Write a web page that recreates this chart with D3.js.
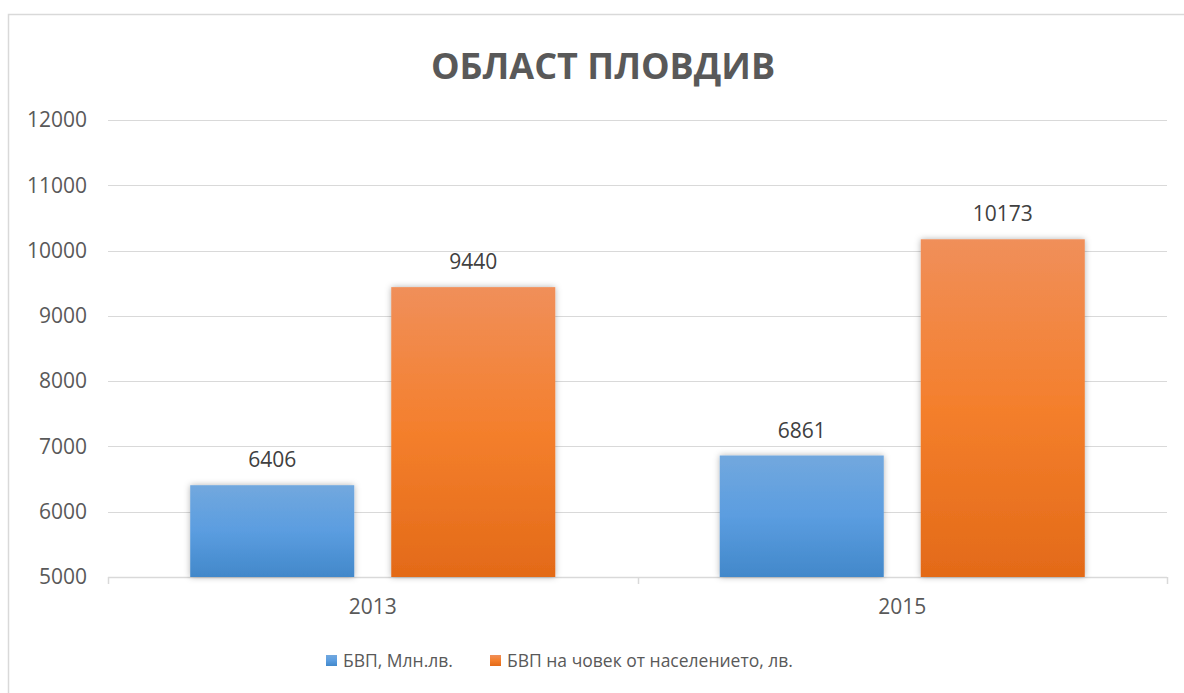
<!DOCTYPE html>
<html>
<head>
<meta charset="utf-8">
<script src="https://cdn.jsdelivr.net/npm/d3@7"></script>
<style>
  body { margin: 0; background: #fff; }
  text { font-family: "Open Sans", "Noto Sans", sans-serif; }
</style>
</head>
<body>
<script>
// data
let years = ['2013', '2015'];
let seriesNames = ['БВП, Млн.лв.', 'БВП на човек от населението, лв.'];
let gdpTotal = [6406, 6861];
let gdpPerCapita = [9440, 10173];
let yTicks = [5000, 6000, 7000, 8000, 9000, 10000, 11000, 12000];

let w = 1184, h = 693;
let plotLeft = 108, plotRight = 1167, plotTop = 120, plotBottom = 577;

let rows = [];
years.forEach((y, i) => {
  rows.push({year: y, s: 0, v: gdpTotal[i]});
  rows.push({year: y, s: 1, v: gdpPerCapita[i]});
});

let svg = d3.select('body').append('svg')
  .attr('width', w)
  .attr('height', h);

svg.append('rect').attr('width', w).attr('height', h).attr('fill', '#fff');

// outer chart border (runs off the right and bottom)
svg.append('rect')
  .attr('x', 8.5).attr('y', 14.5)
  .attr('width', w + 20).attr('height', h + 20)
  .attr('fill', 'none')
  .attr('stroke', '#d9d9d9')
  .attr('stroke-width', 1.5);

let defs = svg.append('defs');
let grads = [
  ['#72a8de', '#5b9de0', '#4288ca'],
  ['#f08f5a', '#f47f2c', '#e36a18']
];
grads.forEach((g, i) => {
  let lg = defs.append('linearGradient')
    .attr('id', 'g' + i)
    .attr('x1', 0).attr('y1', 0).attr('x2', 0).attr('y2', 1);
  lg.append('stop').attr('offset', '0%').attr('stop-color', g[0]);
  lg.append('stop').attr('offset', '50%').attr('stop-color', g[1]);
  lg.append('stop').attr('offset', '100%').attr('stop-color', g[2]);
});
let shadow = defs.append('filter').attr('id', 'sh')
  .attr('x', '-10%').attr('y', '-10%').attr('width', '120%').attr('height', '120%');
shadow.append('feDropShadow')
  .attr('dx', 0).attr('dy', 0).attr('stdDeviation', 3)
  .attr('flood-color', '#000').attr('flood-opacity', 0.3);

let x = d3.scaleBand().domain(years).range([plotLeft, plotRight]);
let xs = d3.scaleBand().domain([0, 1]).range([0, x.bandwidth()])
  .paddingInner(0.184).paddingOuter(0.409);
let y = d3.scaleLinear().domain([5000, 12000]).range([plotBottom, plotTop]);

// gridlines
svg.append('g')
  .selectAll('line')
  .data(yTicks)
  .enter()
  .append('line')
  .attr('x1', plotLeft).attr('x2', plotRight)
  .attr('y1', d => Math.round(y(d)) + 0.5)
  .attr('y2', d => Math.round(y(d)) + 0.5)
  .attr('stroke', '#d9d9d9')
  .attr('stroke-width', d => d === 5000 ? 1.5 : 1.2);

// y labels
svg.append('g')
  .selectAll('text')
  .data(yTicks)
  .enter()
  .append('text')
  .attr('x', 87)
  .attr('y', d => y(d))
  .attr('dy', '0.35em')
  .attr('text-anchor', 'end')
  .attr('fill', '#595959')
  .style('font-size', '21px')
  .text(d => d);

// x tick marks
let xEdges = years.map(d => x(d)).concat([plotRight]);
svg.append('g')
  .selectAll('line')
  .data(xEdges)
  .enter()
  .append('line')
  .attr('x1', d => Math.round(d) + 0.5).attr('x2', d => Math.round(d) + 0.5)
  .attr('y1', plotBottom).attr('y2', plotBottom + 7)
  .attr('stroke', '#d9d9d9')
  .attr('stroke-width', 1.5);

// x labels
svg.append('g')
  .selectAll('text')
  .data(years)
  .enter()
  .append('text')
  .attr('x', d => x(d) + x.bandwidth() / 2)
  .attr('y', 614)
  .attr('text-anchor', 'middle')
  .attr('fill', '#595959')
  .style('font-size', '21px')
  .text(d => d);

// bars
svg.append('g')
  .selectAll('rect')
  .data(rows)
  .enter()
  .append('rect')
  .attr('x', d => x(d.year) + xs(d.s))
  .attr('width', xs.bandwidth())
  .attr('y', d => y(d.v))
  .attr('height', d => y(5000) - y(d.v))
  .attr('fill', d => `url(#g${d.s})`)
  .attr('filter', 'url(#sh)');

// value labels
svg.append('g')
  .selectAll('text')
  .data(rows)
  .enter()
  .append('text')
  .attr('x', d => x(d.year) + xs(d.s) + xs.bandwidth() / 2)
  .attr('y', d => y(d.v) - 18)
  .attr('text-anchor', 'middle')
  .attr('fill', '#404040')
  .style('font-size', '21px')
  .text(d => d.v);

// title
svg.append('text')
  .attr('x', 603)
  .attr('y', 79)
  .attr('text-anchor', 'middle')
  .attr('fill', '#595959')
  .style('font-size', '36px')
  .style('font-weight', 'bold')
  .text('ОБЛАСТ ПЛОВДИВ');

// legend
let legendX = [326, 490];
let legend = svg.append('g')
  .selectAll('g')
  .data(seriesNames)
  .enter()
  .append('g')
  .attr('transform', (d, i) => `translate(${legendX[i]},655)`);
legend.append('rect')
  .attr('width', 11).attr('height', 11)
  .attr('fill', (d, i) => `url(#g${i})`);
legend.append('text')
  .attr('x', 17).attr('y', 5.5)
  .attr('dy', '0.35em')
  .attr('fill', '#595959')
  .style('font-size', '17.5px')
  .text(d => d);
</script>
</body>
</html>
